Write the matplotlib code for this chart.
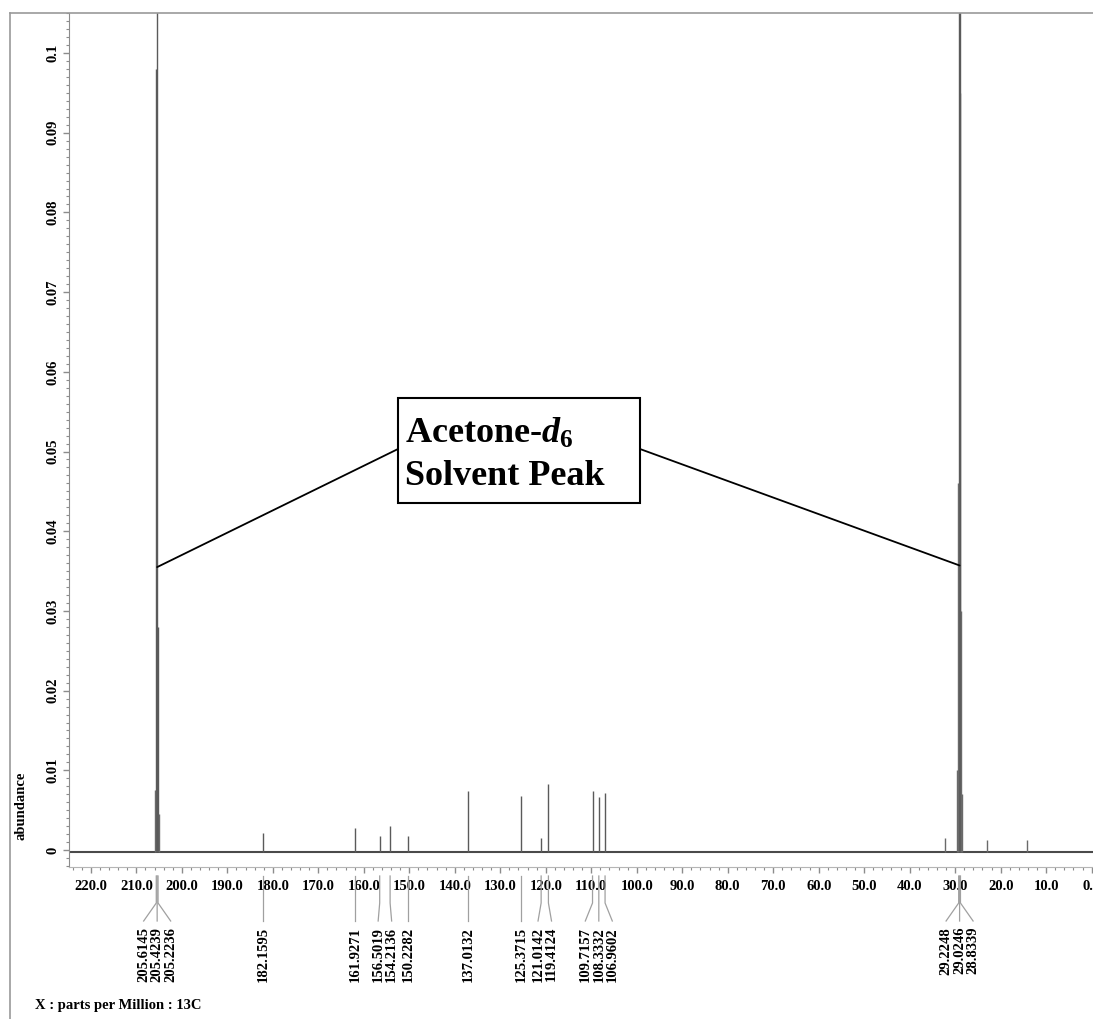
import numpy as np
import matplotlib
matplotlib.use('Agg')
import matplotlib.pyplot as plt
from matplotlib import transforms
from matplotlib.lines import Line2D
from matplotlib.patches import Rectangle
from matplotlib.ticker import MultipleLocator, FixedLocator, FixedFormatter

plt.rcParams['font.family'] = 'Liberation Serif'
plt.rcParams['font.weight'] = 'bold'
plt.rcParams['mathtext.fontset'] = 'custom'
plt.rcParams['mathtext.rm'] = 'Liberation Serif:bold'
plt.rcParams['mathtext.it'] = 'Liberation Serif:italic:bold'

# picked peaks (ppm) and their heights
peak_ppm = [205.6145, 205.4239, 205.2236, 182.1595, 161.9271, 156.5019, 154.2136,
            150.2282, 137.0132, 125.3715, 121.0142, 119.4124, 109.7157, 108.3332,
            106.9602, 29.2248, 29.0246, 28.8339]
peak_height = [0.098, 0.12, 0.028, 0.0021, 0.0028, 0.0018, 0.0030,
               0.0017, 0.0074, 0.0068, 0.0015, 0.0083, 0.0074, 0.0066,
               0.0072, 0.12, 0.12, 0.095]

# lines without a label (septet wings, shoulders, small impurities)
other_ppm = [205.81, 205.03, 29.62, 29.42, 28.64, 28.44, 32.2, 22.9, 14.1]
other_height = [0.0075, 0.0045, 0.010, 0.046, 0.030, 0.007, 0.0015, 0.0012, 0.0012]

baseline_level = -0.0002

x_ticks = [220, 210, 200, 190, 180, 170, 160, 150, 140, 130, 120, 110,
           100, 90, 80, 70, 60, 50, 40, 30, 20, 10, 0]
y_ticks = [0, 0.01, 0.02, 0.03, 0.04, 0.05, 0.06, 0.07, 0.08, 0.09, 0.1]
y_tick_labels = ['0', '0.01', '0.02', '0.03', '0.04', '0.05', '0.06', '0.07', '0.08', '0.09', '0.1']

W, H = 1093, 1019
AX_GRAY = '#8c8c8c'


def fx(px):
    return px / W


def fy(py):
    return 1 - py / H


def spread_labels(ppms, min_gap):
    # push labels apart so they don't overlap, keeping each cluster centred
    order = sorted(range(len(ppms)), key=lambda i: -ppms[i])
    vals = [ppms[i] for i in order]
    pos = list(vals)
    for _ in range(50):
        clusters = [[0]]
        for i in range(1, len(pos)):
            if pos[clusters[-1][-1]] - pos[i] < min_gap - 1e-9:
                clusters[-1].append(i)
            else:
                clusters.append([i])
        moved = False
        for c in clusters:
            if len(c) < 2:
                continue
            centre = np.mean([vals[i] for i in c])
            n = len(c)
            for k, i in enumerate(c):
                new = centre + (n - 1) / 2 * min_gap - k * min_gap
                if abs(new - pos[i]) > 1e-9:
                    moved = True
                pos[i] = new
        if not moved:
            break
    out = [0] * len(ppms)
    for k, i in enumerate(order):
        out[i] = pos[k]
    return out


fig = plt.figure(figsize=(W / 100, H / 100), dpi=100)

# outer frame
fig.add_artist(Line2D([fx(10), fx(10)], [fy(13), 0], color='#9a9a9a', lw=1.2))
fig.add_artist(Line2D([fx(10), 1], [fy(13), fy(13)], color='#9a9a9a', lw=1.2))

ax = fig.add_axes([fx(69), fy(867), fx(1093 - 69), (867 - 13) / H])
ax.set_xlim(224.8, -0.3)
ax.set_ylim(-0.00213, 0.10502)

ax.axhline(baseline_level, color='#4a4a4a', lw=1.5)
ax.vlines(peak_ppm, baseline_level, peak_height, color='#5a5a5a', lw=1.0)
ax.vlines(other_ppm, baseline_level, other_height, color='#6a6a6a', lw=1.0)

for s in ['top', 'right']:
    ax.spines[s].set_visible(False)
ax.spines['left'].set_color(AX_GRAY)
ax.spines['bottom'].set_color('#b5b5b5')

ax.yaxis.set_major_locator(FixedLocator(y_ticks))
ax.yaxis.set_major_formatter(FixedFormatter(y_tick_labels))
ax.yaxis.set_minor_locator(MultipleLocator(0.001))
ax.xaxis.set_major_locator(FixedLocator(x_ticks))
ax.xaxis.set_major_formatter(FixedFormatter(['%.1f' % v for v in x_ticks]))
ax.xaxis.set_minor_locator(MultipleLocator(2))

ax.tick_params(axis='y', which='major', direction='out', length=4.5, width=1, color=AX_GRAY,
               labelsize=10.5, pad=2)
ax.tick_params(axis='y', which='minor', direction='out', length=2.5, width=0.8, color=AX_GRAY)
ax.tick_params(axis='x', which='major', direction='out', length=4, width=1, color=AX_GRAY,
               labelsize=10.5, pad=5)
ax.tick_params(axis='x', which='minor', direction='out', length=2.5, width=0.8, color=AX_GRAY)
for lab in ax.get_yticklabels():
    lab.set_rotation(90)
    lab.set_va('center')
    lab.set_fontweight('bold')
for lab in ax.get_xticklabels():
    lab.set_fontweight('bold')

# peak labels under the axis
blend = transforms.blended_transform_factory(ax.transData, fig.transFigure)
label_pos = spread_labels(peak_ppm, 13.5 / 4.55)
for p, lp in zip(peak_ppm, label_pos):
    ax.plot([p, p, lp], [fy(876), fy(903), fy(921)], transform=blend,
            color='#a0a0a0', lw=0.9, clip_on=False)
    ax.text(lp, fy(927), '%.4f' % p, transform=blend, rotation=90,
            ha='center', va='top', fontsize=10.5, fontweight='bold')

fig.text(fx(21), fy(806), 'abundance', rotation=90, ha='center', va='center',
         fontsize=10.5, fontweight='bold')
fig.text(fx(35), fy(1005), 'X : parts per Million : 13C', ha='left', va='center',
         fontsize=10.5, fontweight='bold')

# solvent annotation
ax.annotate('', xy=(205.42, 0.0355), xycoords='data',
            xytext=(fx(398), fy(449)), textcoords='figure fraction',
            arrowprops=dict(arrowstyle='-', color='black', lw=1.3, shrinkA=0, shrinkB=0))
ax.annotate('', xy=(29.02, 0.0357), xycoords='data',
            xytext=(fx(640), fy(449)), textcoords='figure fraction',
            arrowprops=dict(arrowstyle='-', color='black', lw=1.3, shrinkA=0, shrinkB=0))
fig.add_artist(Rectangle((fx(398), fy(503)), fx(640 - 398), (503 - 398) / H,
                         transform=fig.transFigure, facecolor='white',
                         edgecolor='black', lw=1.5, zorder=5))
fig.text(fx(405), fy(443), r'Acetone-$d_{\mathit{6}}$', ha='left', va='baseline',
         fontsize=26, fontweight='bold', zorder=6)
fig.text(fx(405), fy(485), 'Solvent Peak', ha='left', va='baseline',
         fontsize=26, fontweight='bold', zorder=6)

fig.savefig('out.png', dpi=100)
